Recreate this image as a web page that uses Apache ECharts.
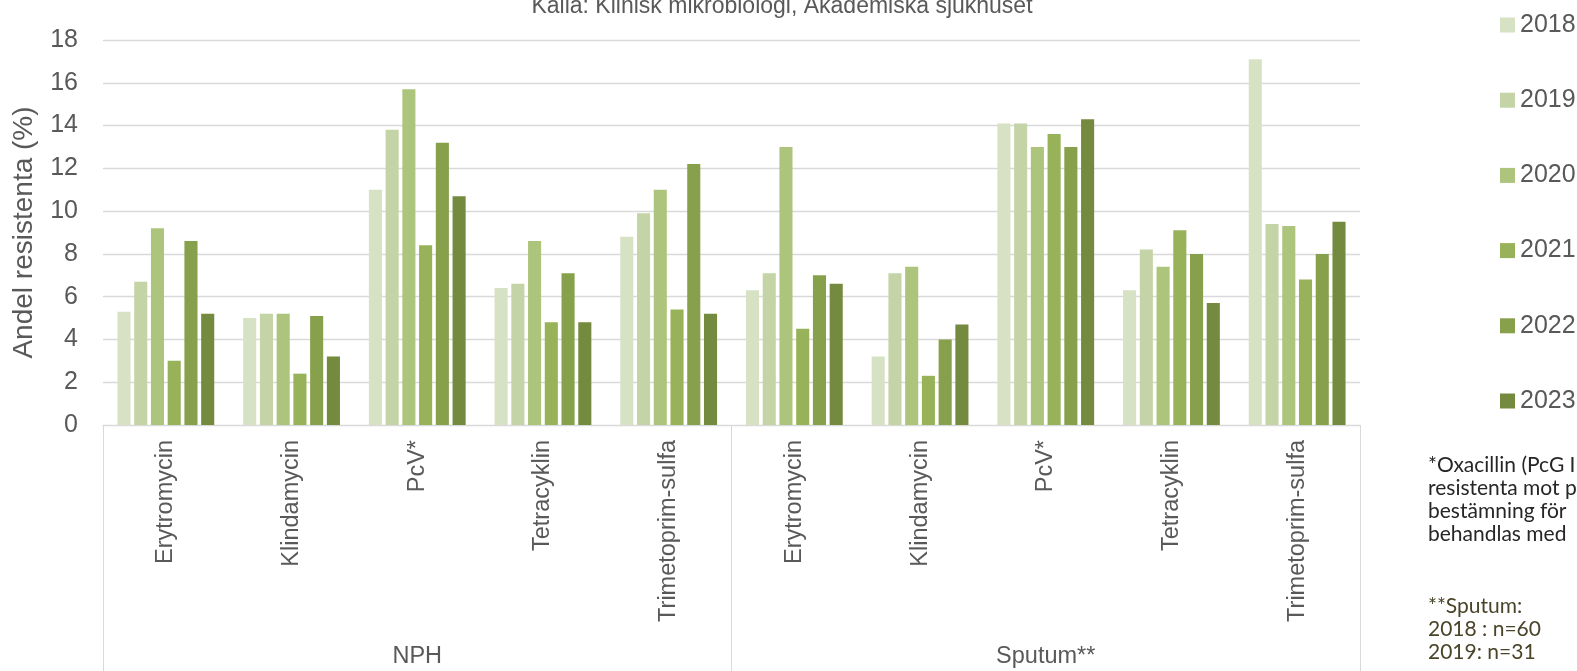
<!DOCTYPE html>
<html>
<head>
<meta charset="utf-8">
<script src="https://cdn.jsdelivr.net/npm/echarts@6/dist/echarts.min.js"></script>
<style>
html,body{margin:0;padding:0;background:#fff;}
#c{width:1577px;height:671px;}
</style>
</head>
<body>
<div id="c"></div>
<script>
const categories = ['Erytromycin','Klindamycin','PcV*','Tetracyklin','Trimetoprim-sulfa',
                    'Erytromycin','Klindamycin','PcV*','Tetracyklin','Trimetoprim-sulfa'];
const groups = ['NPH','Sputum**'];
const years = ['2018','2019','2020','2021','2022','2023'];
const v2018 = [5.3, 5.0, 11.0, 6.4, 8.8, 6.3, 3.2, 14.1, 6.3, 17.1];
const v2019 = [6.7, 5.2, 13.8, 6.6, 9.9, 7.1, 7.1, 14.1, 8.2, 9.4];
const v2020 = [9.2, 5.2, 15.7, 8.6, 11.0, 13.0, 7.4, 13.0, 7.4, 9.3];
const v2021 = [3.0, 2.4, 8.4, 4.8, 5.4, 4.5, 2.3, 13.6, 9.1, 6.8];
const v2022 = [8.6, 5.1, 13.2, 7.1, 12.2, 7.0, 4.0, 13.0, 8.0, 8.0];
const v2023 = [5.2, 3.2, 10.7, 4.8, 5.2, 6.6, 4.7, 14.3, 5.7, 9.5];
const yTicks = [0,2,4,6,8,10,12,14,16,18];
const titleText = 'Källa: Klinisk mikrobiologi, Akademiska sjukhuset';
const noteLines1 = ['*Oxacillin (PcG I', 'resistenta mot p', 'bestämning för', 'behandlas med'];
const noteLines2 = ['**Sputum:', '2018 : n=60', '2019: n=31'];

const colors = ['#D7E1C4','#C4D4A6','#ADC47C','#98B25A','#86A04B','#748A3E'];
const seriesValues = [v2018, v2019, v2020, v2021, v2022, v2023];
const FONT = '"Liberation Sans", Arial, sans-serif';
const NOTEFONT = '21px Lato, "Noto Sans", sans-serif';
const TXT = '#595959';
const GRID = '#d9d9d9';

const chart = echarts.init(document.getElementById('c'), null, {renderer:'canvas'});

const graphics = [];
graphics.push({type:'text', x:782, y:7, style:{text:titleText, font:'23px ' + FONT, fill:TXT, textAlign:'center', textVerticalAlign:'middle'}});
const y1 = [465, 488, 511, 534];
noteLines1.forEach((t,i)=>graphics.push({type:'text', x:1428, y:y1[i], style:{text:t, font:NOTEFONT, fill:'#262626', textAlign:'left', textVerticalAlign:'middle'}}));
const y2 = [606, 629, 652];
noteLines2.forEach((t,i)=>graphics.push({type:'text', x:1428, y:y2[i], style:{text:t, font:NOTEFONT, fill:'#4A452A', textAlign:'left', textVerticalAlign:'middle'}}));

const option = {
  animation:false,
  backgroundColor:'#ffffff',
  textStyle:{fontFamily:FONT},
  grid:{left:103, right:217, top:40, bottom:246, containLabel:false},
  legend:{
    data:years, orient:'vertical', left:1495, top:7.5,
    itemWidth:15, itemHeight:15, itemGap:50.2, icon:'rect',
    textStyle:{fontSize:25, color:TXT, fontFamily:FONT, lineHeight:25}
  },
  xAxis:[
    {type:'category', data:categories, position:'bottom',
     axisLine:{show:true, lineStyle:{color:GRID, width:1}},
     axisTick:{show:false},
     axisLabel:{interval:0, rotate:90, fontSize:23.5, color:TXT, margin:15, fontFamily:FONT},
     splitLine:{show:false}},
    {type:'category', data:groups, position:'bottom',
     axisLine:{show:true, lineStyle:{color:GRID, width:1}},
     axisTick:{show:true, interval:0, length:246, lineStyle:{color:GRID, width:1}},
     axisLabel:{interval:0, fontSize:23.5, color:TXT, margin:220, fontFamily:FONT},
     splitLine:{show:false}}
  ],
  yAxis:{
    type:'value', min:0, max:18, interval:2,
    name:'Andel resistenta (%)', nameLocation:'middle', nameRotate:90, nameGap:65,
    nameTextStyle:{fontSize:28, color:TXT, fontFamily:FONT},
    axisLine:{show:false}, axisTick:{show:false},
    axisLabel:{fontSize:25, color:TXT, margin:25, fontFamily:FONT,
      formatter:(v)=> yTicks.includes(v) ? String(v) : ''},
    splitLine:{lineStyle:{color:GRID, width:1.3}}
  },
  series: years.map((y,i)=>({
    name:y, type:'bar', xAxisIndex:0, data:seriesValues[i],
    barGap:'28%', barCategoryGap:'23%',
    itemStyle:{color:colors[i]}
  })),
  graphic:graphics
};
chart.setOption(option);
</script>
</body>
</html>
